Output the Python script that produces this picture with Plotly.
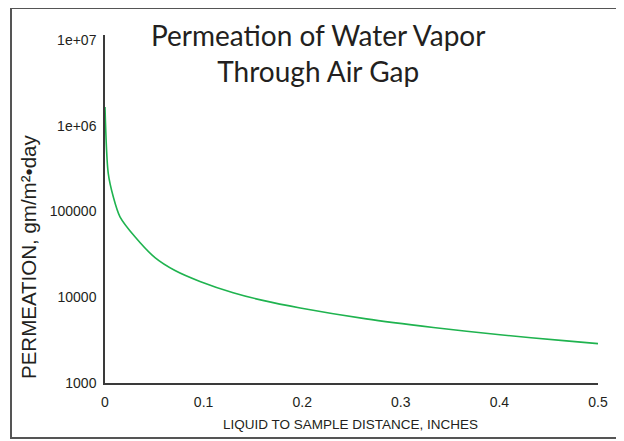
import plotly.graph_objects as go

# Data
distance_in = [0, 0.0033, 0.0084, 0.0152, 0.0304, 0.0507, 0.071, 0.0963, 0.130,
               0.160, 0.198, 0.265, 0.333, 0.4006, 0.468, 0.5]
permeation = [1.66e6, 2.79e5, 1.49e5, 8.7e4, 5.08e4, 2.9e4, 2.05e4, 1.53e4, 1.13e4,
              9.2e3, 7.5e3, 5.6e3, 4.45e3, 3.65e3, 3.1e3, 2.88e3]

y_tickvals = [1e3, 1e4, 1e5, 1e6, 1e7]
y_ticktext = ["1000", "10000", "100000", "1e+06", "1e+07"]
x_tickvals = [0, 0.1, 0.2, 0.3, 0.4, 0.5]
x_ticktext = ["0", "0.1", "0.2", "0.3", "0.4", "0.5"]

title_text = "Permeation of Water Vapor<br>Through Air Gap"
x_title = "LIQUID TO SAMPLE DISTANCE, INCHES"
y_title = "PERMEATION, gm/m²•day"

OFF = 8  # page body margin
W, H = 624 - OFF, 441 - OFF
L, R, T, B = 105 - OFF, 26, 35 - OFF, 58
pw, ph = W - L - R, H - T - B

def px_x(p):
    return (p - OFF - L) / pw

def px_y(p):
    return (H - B - (p - OFF)) / ph

txt = "#231f20"
fig = go.Figure()
fig.add_trace(go.Scatter(x=distance_in, y=permeation, mode="lines",
                         line=dict(color="#1fb34f", width=1.6, shape="spline", smoothing=0.8),
                         hoverinfo="skip", showlegend=False))

fig.update_layout(
    width=W, height=H,
    margin=dict(l=L, r=R, t=T, b=B),
    paper_bgcolor="white", plot_bgcolor="white",
    font=dict(family="Liberation Sans, Arial, sans-serif", color=txt),
    xaxis=dict(range=[0, 0.5], tickvals=x_tickvals, ticktext=x_ticktext,
               showgrid=False, zeroline=False, showline=True, linecolor="#3a3a3a",
               linewidth=1.5, ticks="", ticklabelstandoff=5,
               tickfont=dict(size=14, color=txt)),
    yaxis=dict(type="log", range=[3, 7.06], tickvals=y_tickvals, ticktext=y_ticktext,
               showgrid=False, zeroline=False, showline=True, linecolor="#3a3a3a",
               linewidth=1.5, ticks="", ticklabelstandoff=4,
               tickfont=dict(size=14, color=txt)),
    annotations=[
        dict(text=title_text, x=px_x(318), y=px_y(53), xref="paper", yref="paper",
             showarrow=False, xanchor="center", yanchor="middle",
             font=dict(family="Lato, Open Sans, sans-serif", size=28, color=txt)),
        dict(text=x_title, x=px_x(350), y=px_y(424), xref="paper", yref="paper",
             showarrow=False, xanchor="center", yanchor="middle",
             font=dict(size=13.5, color=txt)),
        dict(text=y_title, x=px_x(28), y=px_y(257), xref="paper", yref="paper",
             showarrow=False, xanchor="center", yanchor="middle", textangle=-90,
             font=dict(size=20.5, color=txt)),
    ],
    shapes=[dict(type="rect", xref="paper", yref="paper",
                 x0=px_x(11), x1=px_x(622), y0=px_y(438), y1=px_y(8),
                 line=dict(color="#555555", width=2), fillcolor="rgba(0,0,0,0)", layer="above")],
)

fig.write_html("out.html")
